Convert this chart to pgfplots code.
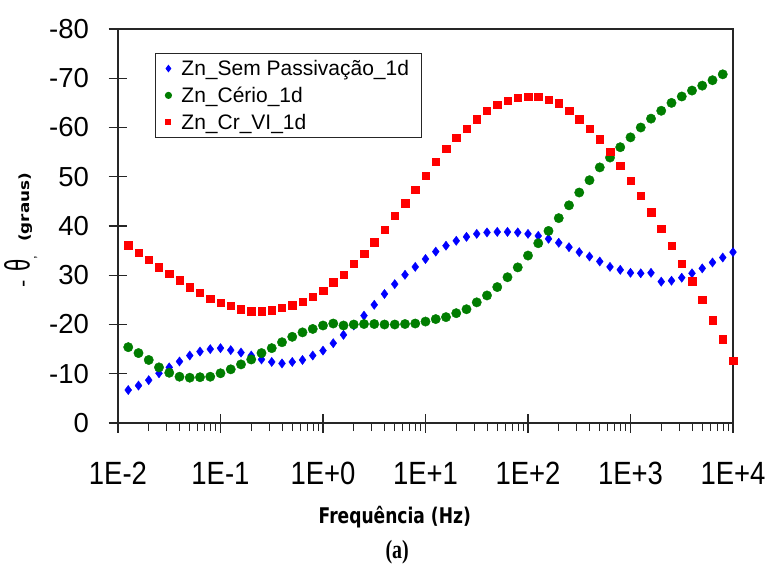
\documentclass[border=0pt]{standalone}
\usepackage{fontspec}
\setmainfont{Liberation Sans}
\newfontfamily\dejavu{DejaVu Sans}
\newfontfamily\libserif{Liberation Serif}
\usepackage{graphicx}
\usepackage{pgfplots}
\pgfplotsset{compat=1.18}
\usepackage{pgfplotstable}
\definecolor{cblue}{RGB}{0,0,255}
\definecolor{cgreen}{RGB}{0,125,0}
\definecolor{cred}{RGB}{255,0,0}

\pgfplotstableread{
f th
0.012589 -6.7
0.015849 -7.6
0.019953 -8.7
0.025119 -10.1
0.031623 -11.3
0.039811 -12.5
0.050119 -13.7
0.063096 -14.5
0.079433 -15.0
0.1 -15.2
0.12589 -14.8
0.15849 -14.3
0.19953 -13.7
0.25119 -12.9
0.31623 -12.4
0.39811 -12.1
0.50119 -12.4
0.63096 -12.8
0.79433 -13.7
1 -14.7
1.2589 -16.2
1.5849 -17.9
1.9953 -19.8
2.5119 -21.8
3.1623 -24.0
3.9811 -26.2
5.0119 -28.2
6.3096 -30.1
7.9433 -31.7
10 -33.3
12.589 -34.8
15.849 -36.0
19.953 -37.0
25.119 -37.8
31.623 -38.4
39.811 -38.7
50.119 -38.8
63.096 -38.8
79.433 -38.7
100 -38.4
125.89 -38.0
158.49 -37.4
199.53 -36.6
251.19 -35.7
316.23 -34.7
398.11 -33.8
501.19 -32.8
630.96 -31.7
794.33 -31.1
1000 -30.5
1258.9 -30.4
1584.9 -30.5
1995.3 -28.7
2511.9 -28.9
3162.3 -29.5
3981.1 -30.4
5011.9 -31.4
6309.6 -32.6
7943.3 -33.6
10000 -34.7
}\tblue

\pgfplotstableread{
f th
0.012589 -15.4
0.015849 -14.2
0.019953 -12.8
0.025119 -11.3
0.031623 -10.2
0.039811 -9.4
0.050119 -9.2
0.063096 -9.3
0.079433 -9.4
0.1 -10.1
0.12589 -10.9
0.15849 -11.9
0.19953 -12.9
0.25119 -14.2
0.31623 -15.2
0.39811 -16.4
0.50119 -17.5
0.63096 -18.4
0.79433 -19.1
1 -19.8
1.2589 -20.2
1.5849 -19.8
1.9953 -20.0
2.5119 -20.1
3.1623 -20.1
3.9811 -20.0
5.0119 -20.0
6.3096 -20.1
7.9433 -20.2
10 -20.6
12.589 -21.1
15.849 -21.5
19.953 -22.3
25.119 -23.1
31.623 -24.5
39.811 -25.9
50.119 -27.6
63.096 -29.6
79.433 -31.6
100 -34.0
125.89 -36.5
158.49 -39.0
199.53 -41.6
251.19 -44.2
316.23 -46.8
398.11 -49.3
501.19 -51.9
630.96 -53.9
794.33 -56.0
1000 -58.0
1258.9 -60.0
1584.9 -61.8
1995.3 -63.4
2511.9 -65.0
3162.3 -66.3
3981.1 -67.5
5011.9 -68.5
6309.6 -69.6
7943.3 -70.8
}\tgreen

\pgfplotstableread{
f th
0.012589 -36.1
0.015849 -34.6
0.019953 -33.2
0.025119 -31.6
0.031623 -30.3
0.039811 -29.0
0.050119 -27.6
0.063096 -26.5
0.079433 -25.3
0.1 -24.4
0.12589 -23.8
0.15849 -23.1
0.19953 -22.7
0.25119 -22.7
0.31623 -22.9
0.39811 -23.4
0.50119 -23.9
0.63096 -24.6
0.79433 -25.6
1 -26.9
1.2589 -28.6
1.5849 -30.1
1.9953 -32.3
2.5119 -34.4
3.1623 -36.7
3.9811 -39.2
5.0119 -42.1
6.3096 -44.6
7.9433 -47.4
10 -50.2
12.589 -53.1
15.849 -55.7
19.953 -57.9
25.119 -59.8
31.623 -61.7
39.811 -63.4
50.119 -64.6
63.096 -65.5
79.433 -66.1
100 -66.2
125.89 -66.2
158.49 -65.7
199.53 -64.9
251.19 -63.4
316.23 -61.7
398.11 -59.8
501.19 -57.6
630.96 -55.1
794.33 -52.2
1000 -49.2
1258.9 -46.2
1584.9 -42.8
1995.3 -39.5
2511.9 -36.0
3162.3 -32.3
3981.1 -28.8
5011.9 -25.0
6309.6 -20.9
7943.3 -17.0
10000 -12.6
}\tred

\begin{document}
\begin{tikzpicture}
\useasboundingbox (-118pt,-142pt) rectangle (652pt,423pt);
\begin{axis}[
  at={(0pt,0pt)}, anchor=south west,
  scale only axis, width=615pt, height=394pt,
  xmode=log, xmin=0.01, xmax=10000,
  ymin=-80, ymax=0, y dir=reverse,
  clip=false,
  axis line style={line width=1.3pt, black!85},
  xtick={0.01,0.1,1,10,100,1000,10000},
  xticklabels={\scalebox{1}[1.17]{1E-2},\scalebox{1}[1.17]{1E-1},\scalebox{1}[1.17]{1E+0},\scalebox{1}[1.17]{1E+1},\scalebox{1}[1.17]{1E+2},\scalebox{1}[1.17]{1E+3},\scalebox{1}[1.17]{1E+4}},
  minor xtick={0.02,0.03,0.04,0.05,0.06,0.07,0.08,0.09,0.2,0.3,0.4,0.5,0.6,0.7,0.8,0.9,2,3,4,5,6,7,8,9,20,30,40,50,60,70,80,90,200,300,400,500,600,700,800,900,2000,3000,4000,5000,6000,7000,8000,9000},
  ytick={0,-10,-20,-30,-40,-50,-60,-70,-80},
  yticklabels={0,-10,-20,30,40,50,-60,-70,-80},
  xtick pos=bottom, ytick pos=left,
  tick align=center,
  major tick length=19pt,
  minor tick length=8pt,
  minor tick style={yshift=-4pt},
  tick style={line width=1.1pt, black!85},
  ticklabel style={font=\fontsize{27.5}{28}\selectfont},
  xticklabel style={anchor=north, yshift=-26pt},
  yticklabel style={anchor=east, xshift=-16pt},
  legend style={at={(0.06,0.94)}, anchor=north west, draw=black!85, line width=1.1pt,
    font=\fontsize{21}{21}\selectfont, row sep=6pt, column sep=8pt, inner xsep=10pt, inner ysep=5pt},
  legend cell align=left,
]
\addplot[only marks, mark=diamond*, mark size=4.6pt, color=cblue, mark options={draw=cblue, fill=cblue}, legend image post style={mark size=3pt}] table[x=f,y=th]{\tblue};
\addlegendentry{Zn\_Sem Passivação\_1d}
\addplot[only marks, mark=*, mark size=4.7pt, color=cgreen, mark options={draw=cgreen, fill=cgreen}, legend image post style={mark size=3pt}] table[x=f,y=th]{\tgreen};
\addlegendentry{Zn\_Cério\_1d}
\addplot[only marks, mark=square*, mark size=3.7pt, color=cred, mark options={draw=cred, fill=cred}, legend image post style={mark size=2.5pt}] table[x=f,y=th]{\tred};
\addlegendentry{Zn\_Cr\_VI\_1d}
\node[anchor=center] at (rel axis cs:0.45,-0.239) {\scalebox{0.95}[1.2]{\dejavu\bfseries\fontsize{18}{18}\selectfont Frequência (Hz)}};
\node[anchor=center] at (rel axis cs:0.454,-0.327) {\scalebox{0.95}[1.25]{\libserif\bfseries\fontsize{21}{21}\selectfont (a)}};
\node[anchor=center, rotate=90] at (rel axis cs:-0.158,0.49) {{\fontsize{22}{22}\selectfont -\hspace{8pt}\scalebox{1}[1.6]{θ}}\raisebox{-6pt}{\fontsize{13}{13}\selectfont ,}\hspace{14pt}\scalebox{1.2}[1]{\dejavu\bfseries\fontsize{14}{15}\selectfont (graus)}};
\end{axis}
\end{tikzpicture}
\end{document}
